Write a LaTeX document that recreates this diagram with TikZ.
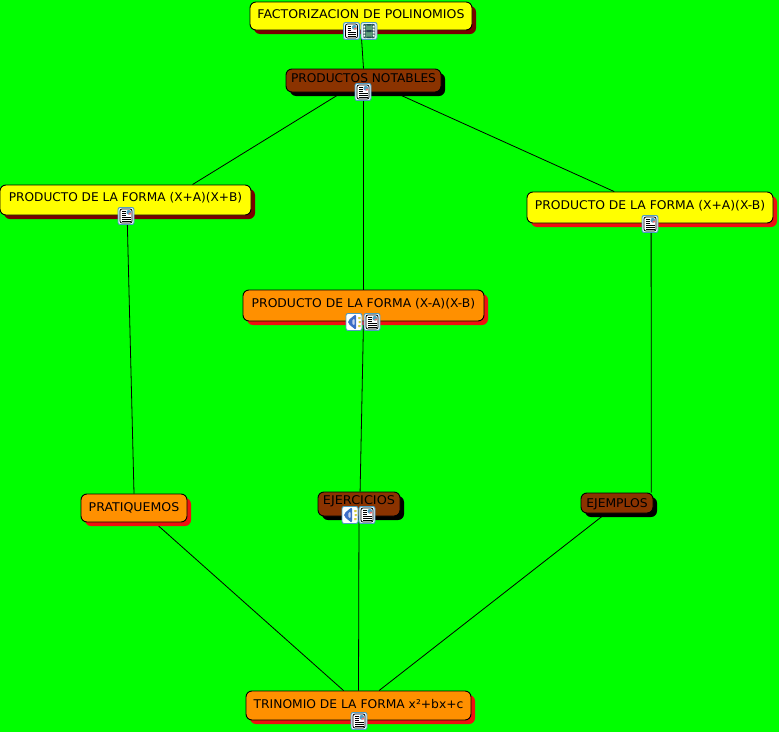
\documentclass[tikz,border=0pt]{standalone}
\usepackage{fontspec}
\setmainfont{DejaVu Sans}
\usetikzlibrary{shadows}
\pgfdeclarelayer{bglayer}
\pgfdeclarelayer{edgelayer}
\pgfsetlayers{bglayer,edgelayer,main}
\definecolor{bggreen}{HTML}{00FF00}
\definecolor{cyellow}{HTML}{FFFF00}
\definecolor{corange}{HTML}{FF9000}
\definecolor{cbrown}{HTML}{8B3300}
\definecolor{cmaroon}{HTML}{7A0000}
\definecolor{cred}{HTML}{F01010}
\definecolor{iconedge}{HTML}{4F9CC4}
\definecolor{iconback}{HTML}{E4F0FA}
\definecolor{speaker}{HTML}{3C6EC8}
\definecolor{filmbody}{HTML}{5E9C78}
\definecolor{filmdark}{HTML}{1E4A50}
\newcommand{\tx}[3]{\raisebox{#1\dimexpr0.75pt\relax}[0pt][0pt]{\scalebox{#2}[1]{#3}}}
\tikzset{
  x=0.75pt, y=-0.75pt,
  concept/.style={draw=black, line width=0.7pt, rounded corners=4.5pt, align=center,
    inner sep=0pt, font=\fontsize{9}{11}\selectfont, text=black},
  yellowmaroon/.style={concept, fill=cyellow, general shadow={shadow xshift=3pt, shadow yshift=-3pt, fill=cmaroon}},
  yellowred/.style={concept, fill=cyellow, general shadow={shadow xshift=3pt, shadow yshift=-3pt, fill=cred}},
  orangered/.style={concept, fill=corange, general shadow={shadow xshift=3pt, shadow yshift=-3pt, fill=cred}},
  brownblack/.style={concept, fill=cbrown, general shadow={shadow xshift=3pt, shadow yshift=-3pt, fill=black}},
  link/.style={draw=black, line width=0.6pt},
  iconbox/.style={draw=iconedge, line width=0.7pt, fill=iconback, rounded corners=1.5pt,
    minimum width=12pt, minimum height=12.75pt, inner sep=0pt},
  docicon/.style={iconbox, path picture={
    \begin{scope}[shift={(path picture bounding box.center)}]
      \fill[white] (-6,-7) rectangle (6,7);
      \draw[black, line width=0.55pt] (-6,-7) rectangle (6,7);
      \fill[iconedge] (0.5,-6) rectangle (5,-1.5);
      \fill[cred!60!white] (2.5,-3.5) rectangle (5,-1.5);
      \draw[black, line width=0.55pt] (-4,-5) -- (-0.5,-5) (-4,-3) -- (-0.5,-3) (-4,-1) -- (-0.5,-1)
        (-4,1) -- (4.5,1) (-4,3) -- (4.5,3) (-4,5) -- (4.5,5);
    \end{scope}}},
  filmicon/.style={iconbox, path picture={
    \begin{scope}[shift={(path picture bounding box.center)}]
      \fill[filmbody] (-6,-7) rectangle (6,7);
      \fill[filmdark] (-6,-7) rectangle (-3.5,7) (3.5,-7) rectangle (6,7) (-3.5,-1) rectangle (3.5,1)
        (-3.5,-7) rectangle (3.5,-5.5) (-3.5,5.5) rectangle (3.5,7);
      \foreach \py in {-5,-2,1,4}{
        \fill[white] (-5.3,\py) rectangle (-4.2,\py+1.2) (4.2,\py) rectangle (5.3,\py+1.2);}
    \end{scope}}},
  soundicon/.style={iconbox, path picture={
    \begin{scope}[shift={(path picture bounding box.center)}]
      \fill[white] (-8,-8) rectangle (8,8);
      \fill[speaker] (-6,-1.5) -- (2,-8) -- (2,8) -- (-6,1.5) -- cycle;
      \fill[white!70!speaker] (-3,0) -- (0.5,-4) -- (0.5,4) -- cycle;
      \fill[yellow!80!black] (4,-5) rectangle (6.5,-3) (4.5,-1) rectangle (7,1) (4,3) rectangle (6.5,5);
    \end{scope}}},
}
\begin{document}
\begin{tikzpicture}
\begin{pgfonlayer}{bglayer}
\fill[bggreen] (0,0) rectangle (779,732);
\end{pgfonlayer}
\useasboundingbox (0,0) rectangle (779,732);

\node[yellowmaroon, minimum width=166.5pt, minimum height=21pt] (fact) at (361,16) {\tx{-2}{1.045}{FACTORIZACION DE POLINOMIOS}};
\node[brownblack, minimum width=116.25pt, minimum height=17.25pt] (notables) at (363.5,80.5) {\tx{-1.5}{1.015}{PRODUCTOS NOTABLES}};
\node[yellowmaroon, minimum width=188.25pt, minimum height=22.5pt] (xaxb) at (125.5,200) {\tx{-1}{1.013}{PRODUCTO DE LA FORMA (X+A)(X+B)}};
\node[yellowred, minimum width=184.5pt, minimum height=23.25pt] (xaxmb) at (650,207.5) {\tx{-1.5}{1.03}{PRODUCTO DE LA FORMA (X+A)(X-B)}};
\node[orangered, minimum width=180.75pt, minimum height=23.25pt] (xmaxmb) at (363.5,305.5) {\tx{-2}{1.03}{PRODUCTO DE LA FORMA (X-A)(X-B)}};
\node[orangered, minimum width=79.5pt, minimum height=21pt] (pratiquemos) at (134,508) {\tx{-3}{1.047}{PRATIQUEMOS}};
\node[brownblack, minimum width=61.5pt, minimum height=18pt] (ejercicios) at (359,504) {\tx{0}{1.07}{EJERCICIOS}};
\node[brownblack, minimum width=54pt, minimum height=15pt] (ejemplos) at (617,503) {\tx{-4}{1.03}{EJEMPLOS}};
\node[orangered, minimum width=168.75pt, minimum height=21.75pt] (trinomio) at (358.5,705.5) {\tx{-2.5}{1.024}{TRINOMIO DE LA FORMA x²+bx+c}};

\node[docicon] (factdoc) at (351.5,31) {};
\node[filmicon] (factfilm) at (369,31) {};
\node[docicon] (notablesdoc) at (363,92) {};
\node[docicon] (xaxbdoc) at (126,216) {};
\node[docicon] (xaxmbdoc) at (650,224) {};
\node[soundicon] (xmaxmbsound) at (354,322) {};
\node[docicon] (xmaxmbdoc) at (372,322) {};
\node[soundicon] (ejerciciossound) at (350,515) {};
\node[docicon] (ejerciciosdoc) at (367,515) {};
\node[docicon] (trinomiodoc) at (359,721) {};

\begin{pgfonlayer}{edgelayer}
\draw[link] (fact.south) -- (notables.north);
\draw[link] (notables.-151.3) -- (xaxb.13);
\draw[link] (notables.south) -- (xmaxmb.north);
\draw[link] (notables.-21.3) -- (xaxmb.156);
\draw[link] (xaxb.-84.3) -- (pratiquemos.north);
\draw[link] (xmaxmb.south) -- (ejercicios.85);
\draw[link] (xaxmb.-86.3) -- (ejemplos.17);
\draw[link] (pratiquemos.-35.5) -- (trinomio.135);
\draw[link] (ejercicios.south) -- (trinomio.north);
\draw[link] (ejemplos.-137.7) -- (trinomio.36.6);
\end{pgfonlayer}
\end{tikzpicture}
\end{document}
